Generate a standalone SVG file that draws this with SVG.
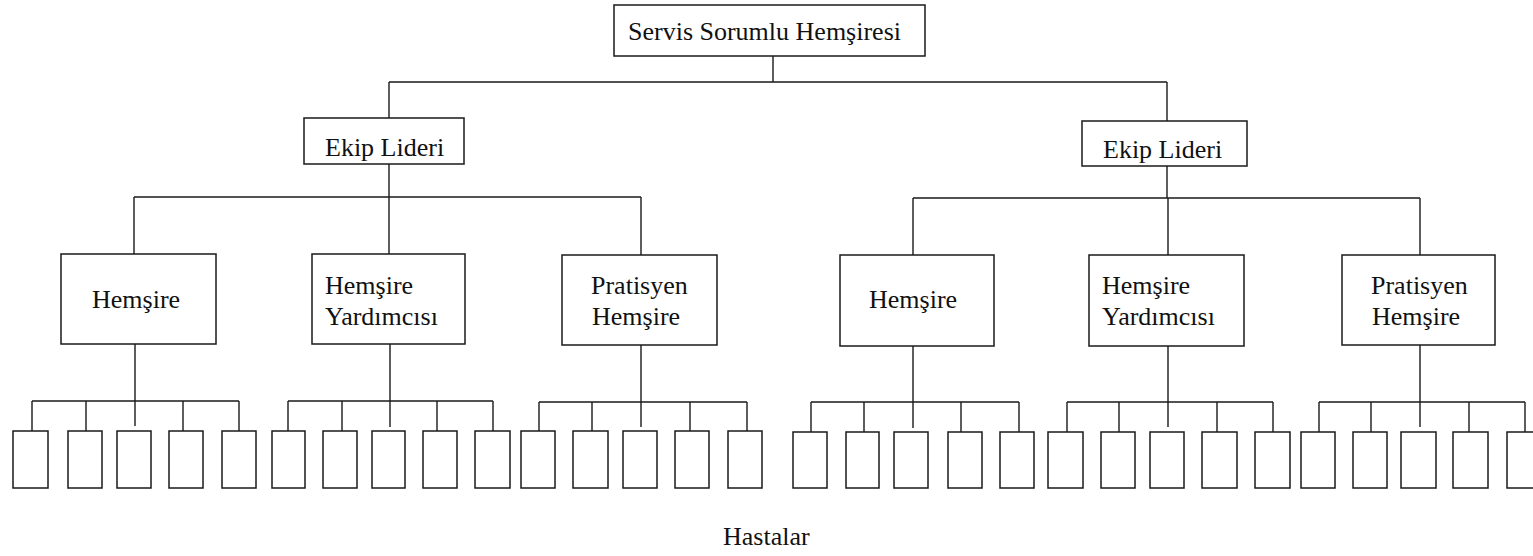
<svg xmlns="http://www.w3.org/2000/svg" width="1533" height="556" viewBox="0 0 1533 556">
<style>
.b{fill:#fff;stroke:#1a1a1a;stroke-width:1.5}
.c{fill:none;stroke:#1a1a1a;stroke-width:1.4}
.t{font-family:"Liberation Serif","Times New Roman",serif;font-size:26px;fill:#111}
</style>
<rect width="1533" height="556" fill="#fff"/>
<g id="connectors" class="c">
<path d="M773 56V82M389 82H1167M389 82V118M1167 82V121"/>
<path d="M389 164V197M134 197H641M134 197V254M389 197V254M641 197V255"/>
<path d="M1167 166V198M913 198H1420M913 198V255M1168 198V255M1420 198V255"/>
<path d="M135 344V426M32 401H239M32 401V431M86 401V431M183 401V431M239 401V431"/>
<path d="M390 344V427M288 401H493M288 401V431M342 401V431M437 401V431M493 401V431"/>
<path d="M641 345V427M539 402H747M539 402V431M592 402V431M690 402V431M747 402V431"/>
<path d="M913 346V428M811 402H1019M811 402V432M864 402V432M961 402V432M1019 402V432"/>
<path d="M1168 346V427M1067 402H1273M1067 402V432M1119 402V432M1217 402V432M1273 402V432"/>
<path d="M1420 345V427M1319 402H1525M1319 402V432M1371 402V432M1469 402V432M1525 402V432"/>
</g>
<g id="n-top"><rect class="b" x="614" y="5" width="311" height="51"/><text class="t" x="628" y="40">Servis Sorumlu Hemşiresi</text></g>
<g id="n-ekip-l"><rect class="b" x="304" y="118" width="160" height="46"/><text class="t" x="325" y="156">Ekip Lideri</text></g>
<g id="n-ekip-r"><rect class="b" x="1082" y="121" width="165" height="45"/><text class="t" x="1103" y="158">Ekip Lideri</text></g>
<g id="n-hem-l"><rect class="b" x="61" y="254" width="155" height="90"/><text class="t" x="92" y="308">Hemşire</text></g>
<g id="n-hy-l"><rect class="b" x="312" y="254" width="153" height="90"/><text class="t" x="325" y="294">Hemşire</text><text class="t" x="325" y="325">Yardımcısı</text></g>
<g id="n-pr-l"><rect class="b" x="562" y="255" width="155" height="90"/><text class="t" x="591" y="294">Pratisyen</text><text class="t" x="592" y="325">Hemşire</text></g>
<g id="n-hem-r"><rect class="b" x="840" y="255" width="154" height="91"/><text class="t" x="869" y="308">Hemşire</text></g>
<g id="n-hy-r"><rect class="b" x="1089" y="255" width="155" height="91"/><text class="t" x="1102" y="294">Hemşire</text><text class="t" x="1102" y="325">Yardımcısı</text></g>
<g id="n-pr-r"><rect class="b" x="1342" y="255" width="153" height="90"/><text class="t" x="1371" y="294">Pratisyen</text><text class="t" x="1372" y="325">Hemşire</text></g>
<g id="patients">
<rect class="b" x="13" y="431" width="35" height="57"/>
<rect class="b" x="68" y="431" width="34" height="57"/>
<rect class="b" x="117" y="431" width="34" height="57"/>
<rect class="b" x="169" y="431" width="34" height="57"/>
<rect class="b" x="222" y="431" width="34" height="57"/>
<rect class="b" x="272" y="431" width="33" height="57"/>
<rect class="b" x="323" y="431" width="34" height="57"/>
<rect class="b" x="372" y="431" width="33" height="57"/>
<rect class="b" x="423" y="431" width="34" height="57"/>
<rect class="b" x="475" y="431" width="35" height="57"/>
<rect class="b" x="521" y="431" width="34" height="57"/>
<rect class="b" x="573" y="431" width="35" height="57"/>
<rect class="b" x="623" y="431" width="34" height="57"/>
<rect class="b" x="675" y="431" width="34" height="57"/>
<rect class="b" x="728" y="431" width="34" height="57"/>
<rect class="b" x="793" y="432" width="34" height="56"/>
<rect class="b" x="846" y="432" width="33" height="56"/>
<rect class="b" x="894" y="432" width="34" height="56"/>
<rect class="b" x="948" y="432" width="34" height="56"/>
<rect class="b" x="1000" y="432" width="34" height="56"/>
<rect class="b" x="1048" y="432" width="35" height="56"/>
<rect class="b" x="1101" y="432" width="34" height="56"/>
<rect class="b" x="1150" y="432" width="34" height="56"/>
<rect class="b" x="1202" y="432" width="35" height="56"/>
<rect class="b" x="1255" y="432" width="35" height="56"/>
<rect class="b" x="1301" y="432" width="34" height="56"/>
<rect class="b" x="1353" y="432" width="34" height="56"/>
<rect class="b" x="1401" y="432" width="35" height="56"/>
<rect class="b" x="1453" y="432" width="35" height="56"/>
<rect class="b" x="1507" y="432" width="35" height="56"/>
</g>
<text class="t" x="723" y="545">Hastalar</text>
</svg>
